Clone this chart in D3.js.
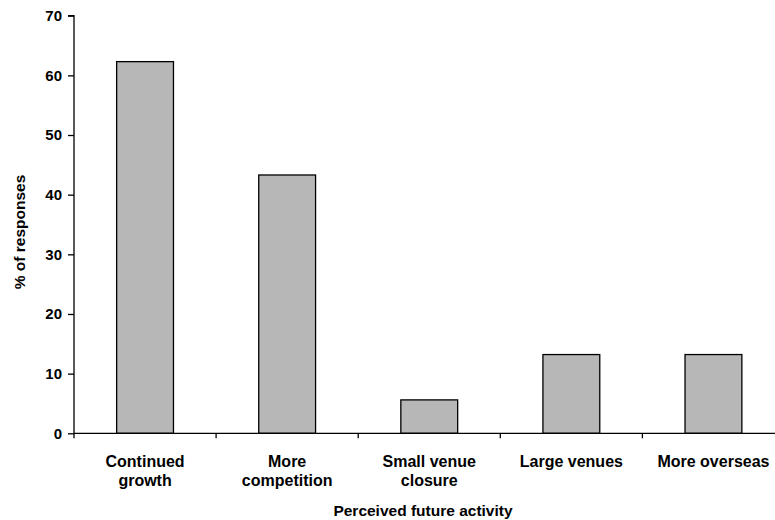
<!DOCTYPE html>
<html>
<head>
<meta charset="utf-8">
<script src="https://cdn.jsdelivr.net/npm/d3@7"></script>
<style>
  body { margin: 0; background: #fff; }
  svg { display: block; font-family: "Liberation Sans", Arial, sans-serif; }
</style>
</head>
<body>
<svg id="chart" width="775" height="520"></svg>
<script>
const categories = [["Continued", "growth"], ["More", "competition"], ["Small venue", "closure"], ["Large venues"], ["More overseas"]];
const values = [62.3, 43.3, 5.6, 13.2, 13.2];
const yTicks = [0, 10, 20, 30, 40, 50, 60, 70];
const xTitle = "Perceived future activity";
const yTitle = "% of responses";

const svg = d3.select("#chart");
const x0 = 74, x1 = 784.5, yBottom = 433.3, yTop = 15.7;

const ids = categories.map((c, i) => i);
const x = d3.scaleBand().domain(ids).range([x0, x1]).paddingInner(0.6).paddingOuter(0.3);
const y = d3.scaleLinear().domain([0, 70]).range([yBottom, yTop]);

// bars
svg.append("g").selectAll("rect").data(values).join("rect")
  .attr("x", (d, i) => x(i))
  .attr("y", d => y(d))
  .attr("width", x.bandwidth())
  .attr("height", d => y(0) - y(d))
  .attr("fill", "#b7b7b7")
  .attr("stroke", "#000")
  .attr("stroke-width", 1.3);

// y axis
const yAxis = svg.append("g").attr("transform", `translate(${x0},0)`)
  .call(d3.axisLeft(y).tickValues(yTicks).tickSize(6).tickPadding(6).tickFormat(d3.format("d")));
yAxis.select(".domain").attr("stroke", "#000").attr("stroke-width", 1.3).attr("d", `M-6,${yTop}H0V${yBottom}`);
yAxis.selectAll(".tick line").attr("stroke", "#000").attr("stroke-width", 1.3);
yAxis.selectAll(".tick text").attr("font-size", 15).attr("font-weight", "bold").attr("fill", "#000")
  .attr("font-family", "Liberation Sans, Arial, sans-serif");

// x axis: ticks at category boundaries
const step = x.step();
const bounds = d3.range(categories.length + 1).map(i => x0 + i * step);
const xg = svg.append("g");
xg.append("line").attr("x1", x0).attr("x2", x1).attr("y1", yBottom).attr("y2", yBottom)
  .attr("stroke", "#000").attr("stroke-width", 1.3);
xg.selectAll("line.tk").data(bounds).join("line").attr("class", "tk")
  .attr("x1", d => d).attr("x2", d => d).attr("y1", yBottom).attr("y2", yBottom + 5)
  .attr("stroke", "#000").attr("stroke-width", 1.3);

// x labels
const lab = svg.append("g").selectAll("text").data(categories).join("text")
  .attr("x", (d, i) => x(i) + x.bandwidth() / 2)
  .attr("y", 467)
  .attr("text-anchor", "middle")
  .attr("font-size", 16).attr("font-weight", "bold").attr("fill", "#000");
lab.selectAll("tspan").data(d => d).join("tspan")
  .attr("x", function() { return d3.select(this.parentNode).attr("x"); })
  .attr("dy", (d, i) => i === 0 ? 0 : 19)
  .text(d => d);

// titles
svg.append("text").attr("x", 423).attr("y", 516).attr("text-anchor", "middle")
  .attr("font-size", 15.5).attr("font-weight", "bold").text(xTitle);
svg.append("text").attr("transform", "translate(25,232) rotate(-90)").attr("text-anchor", "middle")
  .attr("font-size", 15.5).attr("font-weight", "bold").text(yTitle);
</script>
</body>
</html>
